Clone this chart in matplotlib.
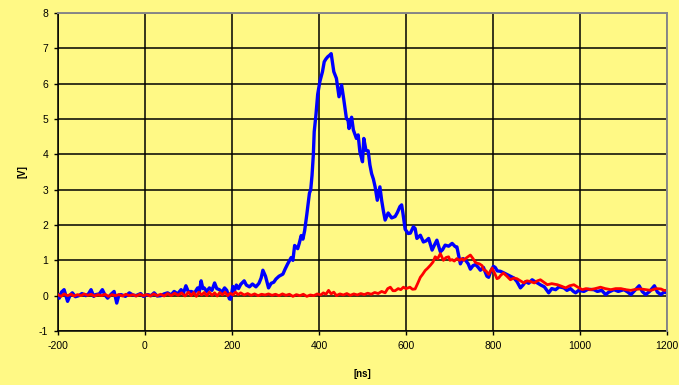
import matplotlib
matplotlib.use("Agg")
import matplotlib.pyplot as plt

# Time axis [ns] and signal [V] for the two probe channels
blue_t = [-200, -197, -192, -186, -182, -178, -172, -167, -160, -152, -145, -136, -130, -124,
          -118, -113, -105, -98, -92, -86, -78, -71, -65, -60, -55, -45, -36, -28, -21, -10,
          -4, 6, 14, 21, 28, 36, 44, 52, 60, 67, 75, 83, 88, 94, 100, 106, 114, 121, 125, 129,
          133, 136, 142, 148, 154, 160, 165, 171, 177, 183, 188, 194, 197, 202, 206, 210, 215,
          220, 228, 233, 240, 247, 255, 262, 267, 271, 277, 284, 290, 296, 301, 308, 317, 322,
          328, 336, 340, 344, 351, 355, 359, 363, 367, 372, 378, 381, 384, 387, 389, 393, 397,
          402, 408, 412, 416, 420, 425, 428, 430, 434, 440, 443, 446, 449, 452, 457, 463, 467,
          469, 473, 475, 479, 486, 490, 494, 500, 503, 508, 513, 517, 521, 525, 529, 534, 540,
          544, 548, 552, 559, 564, 567, 575, 580, 586, 590, 593, 598, 605, 610, 617, 621, 625,
          633, 640, 646, 652, 660, 666, 671, 679, 684, 690, 698, 706, 713, 717, 725, 731, 737,
          743, 748, 754, 760, 766, 771, 778, 786, 790, 795, 801, 805, 810, 817, 824, 832, 840,
          848, 855, 863, 869, 875, 882, 890, 896, 902, 910, 918, 928, 935, 944, 952, 963, 970,
          978, 985, 990, 997, 1009, 1018, 1032, 1040, 1050, 1059, 1066, 1078, 1088, 1101, 1110,
          1117, 1126, 1136, 1143, 1151, 1160, 1171, 1178, 1186, 1193, 1200]
blue_v = [0.02, -0.07, 0.1, 0.17, 0.0, -0.16, 0.02, 0.08, -0.03, 0.0, 0.06, 0.0, 0.05, 0.17,
          -0.02, 0.03, 0.05, 0.17, 0.02, -0.07, 0.04, 0.12, -0.21, 0.02, 0.03, -0.02, 0.08, 0.02,
          0.0, 0.06, -0.02, 0.03, 0.0, 0.08, -0.01, 0.0, 0.05, 0.08, 0.02, 0.12, 0.05, 0.17,
          0.06, 0.28, 0.1, 0.12, 0.08, 0.22, 0.12, 0.42, 0.2, 0.22, 0.12, 0.22, 0.15, 0.36, 0.2,
          0.17, 0.1, 0.22, 0.15, -0.09, -0.1, 0.26, 0.15, 0.3, 0.2, 0.32, 0.42, 0.3, 0.25, 0.33,
          0.25, 0.35, 0.5, 0.72, 0.55, 0.22, 0.35, 0.38, 0.47, 0.55, 0.61, 0.75, 0.9, 1.08, 1.0,
          1.42, 1.33, 1.5, 1.7, 1.6, 1.84, 2.3, 2.9, 3.0, 3.41, 3.99, 4.64, 5.12, 5.7, 6.06,
          6.34, 6.62, 6.7, 6.76, 6.81, 6.85, 6.68, 6.34, 6.15, 5.9, 5.63, 5.8, 5.96, 5.55, 5.02,
          4.95, 4.73, 4.98, 5.05, 4.69, 4.45, 4.55, 4.07, 3.79, 4.45, 4.11, 4.1, 3.7, 3.45, 3.3,
          3.08, 2.7, 3.08, 2.7, 2.4, 2.14, 2.34, 2.25, 2.2, 2.24, 2.35, 2.52, 2.57, 2.33, 1.88,
          1.76, 1.77, 1.95, 1.9, 1.62, 1.71, 1.52, 1.55, 1.62, 1.29, 1.45, 1.57, 1.24, 1.3, 1.43,
          1.4, 1.48, 1.39, 1.38, 0.9, 1.05, 1.0, 0.9, 0.75, 0.85, 0.88, 0.8, 0.72, 0.8, 0.55,
          0.52, 0.7, 0.83, 0.8, 0.7, 0.69, 0.65, 0.6, 0.55, 0.5, 0.4, 0.22, 0.3, 0.4, 0.35, 0.45,
          0.4, 0.36, 0.3, 0.25, 0.08, 0.2, 0.17, 0.25, 0.22, 0.15, 0.2, 0.12, 0.08, 0.15, 0.12,
          0.18, 0.17, 0.12, 0.15, 0.03, 0.1, 0.17, 0.12, 0.17, 0.1, 0.03, 0.15, 0.28, 0.12, 0.03,
          0.12, 0.28, 0.1, 0.03, 0.1, 0.08]

red_t = [-200, -193, -186, -178, -170, -163, -155, -147, -140, -132, -124, -116, -108, -100,
         -92, -84, -76, -68, -60, -52, -44, -36, -28, -20, -12, -4, 4, 12, 20, 28, 36, 44, 52,
         60, 68, 76, 84, 92, 100, 106, 112, 118, 124, 130, 136, 142, 148, 154, 160, 166, 172,
         178, 184, 190, 196, 202, 208, 214, 220, 228, 236, 244, 252, 260, 268, 276, 284, 292,
         300, 308, 316, 324, 332, 340, 348, 356, 364, 372, 380, 388, 396, 404, 410, 416, 422,
         428, 434, 440, 448, 456, 464, 472, 480, 488, 496, 504, 512, 520, 528, 536, 544, 552,
         558, 564, 570, 575, 582, 588, 594, 600, 609, 615, 621, 627, 633, 638, 644, 650, 656,
         662, 667, 673, 679, 686, 692, 698, 701, 706, 711, 717, 723, 729, 732, 740, 748, 754,
         759, 763, 769, 775, 778, 784, 790, 798, 805, 809, 813, 818, 824, 832, 840, 848, 855,
         863, 871, 878, 886, 895, 902, 909, 917, 925, 935, 948, 957, 967, 976, 986, 995, 1005,
         1014, 1024, 1035, 1047, 1058, 1071, 1082, 1094, 1105, 1117, 1128, 1140, 1151, 1163,
         1175, 1186, 1193, 1200]
red_v = [0.03, -0.02, 0.05, 0.0, 0.04, -0.01, 0.03, 0.0, 0.05, 0.01, 0.04, -0.01, 0.03, 0.0,
         0.04, -0.02, 0.03, 0.0, 0.03, -0.01, 0.04, 0.0, 0.03, -0.01, 0.04, 0.0, 0.03, -0.01,
         0.05, 0.0, 0.04, -0.01, 0.06, 0.0, 0.07, 0.01, 0.08, -0.01, 0.1, 0.0, 0.09, -0.02, 0.1,
         0.02, 0.09, 0.0, 0.1, 0.01, 0.08, -0.01, 0.09, 0.02, 0.1, 0.0, 0.07, 0.02, 0.1, 0.03,
         0.08, 0.02, 0.06, 0.01, 0.05, 0.0, 0.04, 0.02, 0.05, 0.01, 0.04, 0.0, 0.05, 0.01, 0.04,
         -0.02, 0.03, 0.0, 0.04, -0.02, 0.02, 0.0, 0.05, 0.02, 0.08, 0.04, 0.15, 0.05, 0.1, 0.0,
         0.05, 0.02, 0.06, 0.01, 0.05, 0.02, 0.06, 0.03, 0.07, 0.04, 0.09, 0.06, 0.12, 0.08,
         0.2, 0.24, 0.14, 0.14, 0.2, 0.17, 0.24, 0.2, 0.24, 0.18, 0.19, 0.35, 0.52, 0.6, 0.71,
         0.78, 0.86, 0.95, 1.1, 1.05, 1.19, 1.0, 1.08, 1.1, 1.0, 1.02, 0.98, 1.05, 1.0, 1.05,
         1.0, 1.08, 1.15, 1.05, 0.95, 0.92, 0.9, 0.85, 0.74, 0.7, 0.6, 0.78, 0.6, 0.48, 0.5,
         0.58, 0.64, 0.55, 0.45, 0.5, 0.48, 0.42, 0.36, 0.42, 0.4, 0.36, 0.42, 0.45, 0.38, 0.31,
         0.34, 0.31, 0.27, 0.22, 0.28, 0.31, 0.24, 0.17, 0.2, 0.17, 0.2, 0.24, 0.2, 0.17, 0.2,
         0.2, 0.17, 0.15, 0.18, 0.19, 0.17, 0.15, 0.2, 0.19, 0.15, 0.15]

x_ticks = [-200, 0, 200, 400, 600, 800, 1000, 1200]
y_ticks = [-1, 0, 1, 2, 3, 4, 5, 6, 7, 8]

bg = "#FFF985"
plt.rcParams["font.family"] = ["Liberation Sans", "DejaVu Sans"]
plt.rcParams["axes.unicode_minus"] = False

fig = plt.figure(figsize=(6.79, 3.85), dpi=100, facecolor=bg)
ax = fig.add_axes([58 / 679, 1 - 331 / 385, 609 / 679, 318 / 385], facecolor=bg)

ax.plot(blue_t, blue_v, color="#0000FF", lw=2.4, zorder=3)
ax.plot(red_t, red_v, color="#FF0000", lw=2.0, zorder=4)

ax.set_xlim(-200, 1200)
ax.set_ylim(-1, 8)
ax.set_xticks(x_ticks)
ax.set_yticks(y_ticks)
ax.tick_params(axis="both", labelsize=7.5, length=3, width=1, direction="out",
               colors="black", pad=4)
ax.grid(True, color="black", lw=1.1)
ax.set_axisbelow(True)

for side in ("left", "bottom"):
    ax.spines[side].set_color("black")
    ax.spines[side].set_linewidth(1.1)
for side in ("top", "right"):
    ax.spines[side].set_color("#888888")
    ax.spines[side].set_linewidth(1.4)
    ax.spines[side].set_zorder(5)

ax.set_xlabel("[ns]", fontsize=7, fontweight="bold", labelpad=13)
ax.set_ylabel("[V]", fontsize=7, fontweight="bold", labelpad=8)

fig.savefig("out.png", dpi=100, facecolor=bg)
